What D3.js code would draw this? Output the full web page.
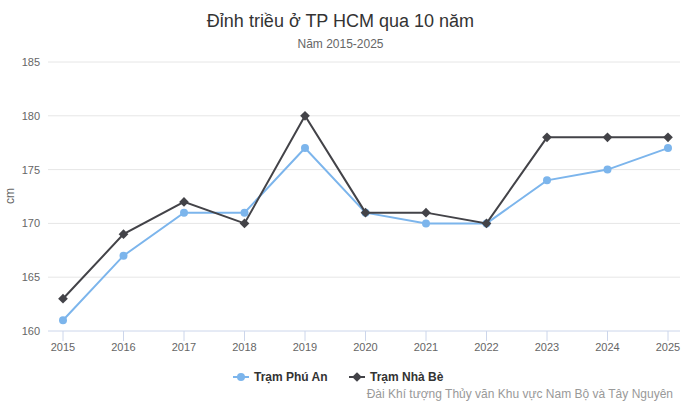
<!DOCTYPE html>
<html><head><meta charset="utf-8">
<script src="https://cdn.jsdelivr.net/npm/d3@7"></script>
<style>body{margin:0;background:#fff;font-family:"Liberation Sans",Arial,sans-serif}</style>
</head><body><div id="chart"></div>
<script>
// Data
var years = ["2015","2016","2017","2018","2019","2020","2021","2022","2023","2024","2025"];
var phuAn = [161,167,171,171,177,171,170,170,174,175,177];
var nhaBe = [163,169,172,170,180,171,171,170,178,178,178];
var yTicks = [160,165,170,175,180,185];

var W = 681, H = 408;
var svg = d3.select("#chart").append("svg").attr("width", W).attr("height", H);

var x = d3.scalePoint().domain(years).range([63, 668]);
var y = d3.scaleLinear().domain([160, 185]).range([331, 62]);

// title
svg.append("text").attr("x", W/2).attr("y", 27).attr("text-anchor","middle")
  .style("font-size","18px").style("fill","#333").text("Đỉnh triều ở TP HCM qua 10 năm");
svg.append("text").attr("x", W/2).attr("y", 48).attr("text-anchor","middle")
  .style("font-size","12px").style("fill","#666").text("Năm 2015-2025");

// grid
svg.selectAll(".grid").data(yTicks).enter().append("line")
  .attr("x1", 48).attr("x2", 680).attr("y1", d => y(d)).attr("y2", d => y(d))
  .style("stroke", d => d === 160 ? "#ccd6eb" : "#e6e6e6").style("stroke-width", 1);

svg.selectAll(".yl").data(yTicks).enter().append("text")
  .attr("x", 40).attr("y", d => y(d) + 4).attr("text-anchor","end")
  .style("font-size","11px").style("fill","#666").text(d => d);

svg.append("text").attr("transform","translate(14,196) rotate(-90)").attr("text-anchor","middle")
  .style("font-size","12px").style("fill","#666").text("cm");

// x ticks
svg.selectAll(".xt").data(years).enter().append("line")
  .attr("x1", d => x(d)).attr("x2", d => x(d)).attr("y1", 331).attr("y2", 341)
  .style("stroke","#ccd6eb");
svg.selectAll(".xl").data(years).enter().append("text")
  .attr("x", d => x(d)).attr("y", 351).attr("text-anchor","middle")
  .style("font-size","11px").style("fill","#666").text(d => d);

var line = d3.line().x((d, i) => x(years[i])).y(d => y(d));
var series = [
  { name: "Trạm Phú An", values: phuAn, color: "#7cb5ec", sym: d3.symbolCircle, size: 50 },
  { name: "Trạm Nhà Bè", values: nhaBe, color: "#434348", sym: d3.symbolDiamond2, size: 60 }
];

series.forEach(function(s) {
  svg.append("path").attr("d", line(s.values)).style("fill","none")
    .style("stroke", s.color).style("stroke-width", 2);
  svg.selectAll(null).data(s.values).enter().append("path")
    .attr("d", d3.symbol().type(s.sym).size(s.size))
    .attr("transform", (d, i) => "translate(" + x(years[i]) + "," + y(d) + ")")
    .style("fill", s.color);
});

// legend
var lx = [233, 349];
series.forEach(function(s, i) {
  var g = svg.append("g").attr("transform", "translate(" + lx[i] + ",377)");
  g.append("line").attr("x1", 0).attr("x2", 16).style("stroke", s.color).style("stroke-width", 2);
  g.append("path").attr("d", d3.symbol().type(s.sym).size(s.size)).attr("transform","translate(8,0)").style("fill", s.color);
  g.append("text").attr("x", 21).attr("y", 4).style("font-size","12px").style("font-weight","bold")
    .style("fill","#333").text(s.name);
});

svg.append("text").attr("x", 673).attr("y", 398).attr("text-anchor","end")
  .style("font-size","12px").style("fill","#999").text("Đài Khí tượng Thủy văn Khu vực Nam Bộ và Tây Nguyên");
</script></body></html>
